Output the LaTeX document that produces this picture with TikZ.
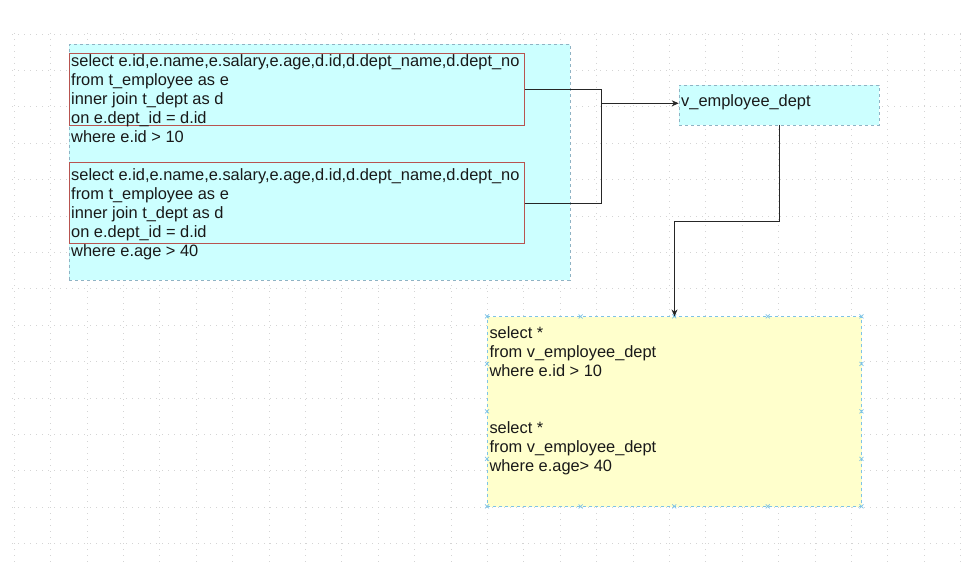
\documentclass[tikz,border=0pt]{standalone}
\usepackage{fontspec}
\setmainfont{Liberation Sans}
\usetikzlibrary{arrows.meta,positioning,calc}
\definecolor{viewfill}{HTML}{CCFFFF}
\definecolor{viewline}{HTML}{8FB3C4}
\definecolor{joinred}{HTML}{B85450}
\definecolor{resfill}{HTML}{FFFFCC}
\definecolor{selblue}{HTML}{7EC3E6}
\definecolor{gridgray}{HTML}{D4D4D4}

\begin{document}
\begin{tikzpicture}[x=1pt,y=-1pt,
    sql/.style={font=\fontsize{16.4}{19}\selectfont,align=left,inner sep=0pt,anchor=north west,text=black!90},
    viewbox/.style={rectangle,draw=viewline,dashed,fill=viewfill,line width=0.6pt},
    joinbox/.style={rectangle,draw=joinred,line width=0.8pt,inner sep=0pt},
    resbox/.style={rectangle,draw=selblue,dashed,fill=resfill,line width=0.6pt,minimum width=374.4pt,minimum height=190pt},
    handle/.style={selblue,line width=0.7pt},
    gridline/.style={gridgray,line width=0.7pt,dash pattern=on 0.8pt off 5.2pt},
    link/.style={line width=0.8pt,black!85},
    arr/.style={-{Stealth[length=7pt,width=6pt]},line width=0.8pt,black!85},
]
\useasboundingbox (0,0) rectangle (966,578);
% Grid
\foreach \k in {0,...,14} \draw[gridline] (12,34+36.4*\k) -- (966,34+36.4*\k);
\foreach \k in {0,...,26} \draw[gridline] (14.2+36.4*\k,33) -- (14.2+36.4*\k,563);

% Query group (left)
\node[viewbox,minimum width=500.7pt,minimum height=236pt] (group) at (319.65,162) {};
\node[joinbox,minimum width=455pt,minimum height=72.4pt] (join1) at (296.8,89.5) {};
\node[joinbox,minimum width=455pt,minimum height=81.4pt] (join2) at (296.8,203) {};
\node[sql] (q1) at (71,54) {select e.id,e.name,e.salary,e.age,d.id,d.dept\_name,d.dept\_no\\from t\_employee as e\\inner join t\_dept as d\\on e.dept\_id = d.id\\where e.id > 10};
\node[sql] (q2) at (71,168) {select e.id,e.name,e.salary,e.age,d.id,d.dept\_name,d.dept\_no\\from t\_employee as e\\inner join t\_dept as d\\on e.dept\_id = d.id\\where e.age > 40};

% View
\node[viewbox,minimum width=200pt,minimum height=40pt] (vemp) at (779,105) {};
\node[font=\fontsize{16.4}{19}\selectfont,text=black!90,inner sep=0pt,anchor=base west] (vname) at (681,106) {v\_employee\_dept};

% Result queries
\node[resbox] (result) at (674.5,411.7) {};
\foreach \px/\py in {0/0,0.25/0,0.5/0,0.75/0,1/0,0/1,0.25/1,0.5/1,0.75/1,1/1,0/0.25,0/0.5,0/0.75,1/0.25,1/0.5,1/0.75}
  \draw[handle] ($(result.north west)+(374.4*\px,190*\py)+(-2,-2)$) -- ++(4,4)
                ($(result.north west)+(374.4*\px,190*\py)+(-2,2)$) -- ++(4,-4);
\node[sql] (r1) at (489.3,326.3) {select *\\from v\_employee\_dept\\where e.id > 10};
\node[sql] (r2) at (489.3,421.7) {select *\\from v\_employee\_dept\\where e.age> 40};

% Connectors
\coordinate (merge) at (601,103.3);
\coordinate (bend) at (674.5,221);
\draw[link] (join1.east) -| (merge);
\draw[link] (join2.east) -| (merge);
\draw[arr] (merge) -- (merge -| vemp.west);
\draw[arr] (vemp.south) |- (bend) -- (result.north);
\end{tikzpicture}
\end{document}
